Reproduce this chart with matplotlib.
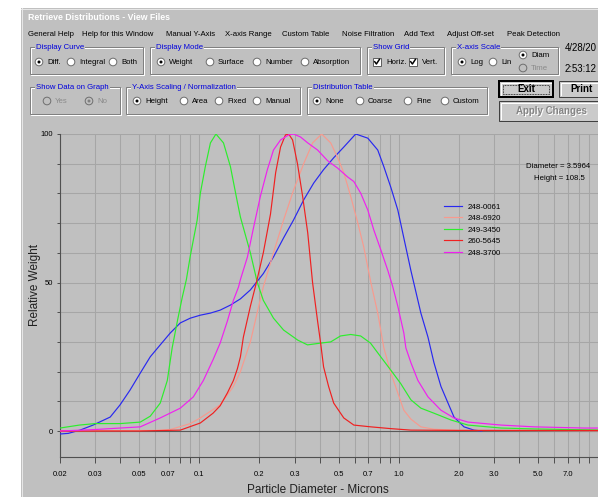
import matplotlib
matplotlib.use("Agg")
import matplotlib.pyplot as plt
import numpy as np
from matplotlib.patches import Rectangle, Circle
from matplotlib.colors import LinearSegmentedColormap
from matplotlib.ticker import FixedLocator, FixedFormatter

plt.rcParams['font.family'] = ['Liberation Sans', 'DejaVu Sans']

# curves: diameter (microns) vs relative weight
blue_x = [0.02, 0.022, 0.0252, 0.0293, 0.0357, 0.04, 0.0449, 0.0505, 0.0567, 0.0636, 0.0714,
          0.0802, 0.09, 0.101, 0.1135, 0.127, 0.143, 0.1605, 0.18, 0.198, 0.209, 0.235, 0.264,
          0.296, 0.333, 0.374, 0.419, 0.471, 0.529, 0.607, 0.698, 0.783, 0.84, 0.911, 0.987,
          1.058, 1.148, 1.288, 1.398, 1.498, 1.624, 1.762, 1.888, 2.119, 2.378, 2.6]
blue_y = [-1, -0.8, 0.3, 2, 4.7, 8.8, 13.8, 19.5, 25, 29, 33,
          36.4, 38, 39, 39.7, 40.7, 42.4, 44.5, 47.5, 51, 53, 58.6, 65,
          71, 77.8, 83.5, 88, 92, 95.6, 100, 98.6, 94.6, 89, 82, 74.4,
          65, 54, 39.7, 31.6, 23, 15, 9.4, 4.7, 1.4, 0.3, 0]

salmon_x = [0.02, 0.06, 0.0714, 0.09, 0.101, 0.127, 0.148, 0.1605, 0.18, 0.195, 0.209, 0.235,
            0.264, 0.296, 0.333, 0.369, 0.41, 0.455, 0.493, 0.529, 0.573, 0.622, 0.666, 0.723,
            0.783, 0.84, 0.911, 0.987, 1.058, 1.148, 1.288, 1.498, 2.0, 10.5]
salmon_y = [0, 0.2, 0.5, 2.5, 4.4, 8.8, 15, 20, 30, 40, 48.5, 60,
            71, 81, 90, 97, 100, 97, 92, 87, 79, 70, 62, 50,
            39.7, 28, 19.5, 12.8, 7, 4, 1.4, 0.6, 0.2, 0]

green_x = [0.02, 0.025, 0.03, 0.04, 0.0505, 0.0567, 0.0636, 0.069, 0.073, 0.0775, 0.082, 0.086,
           0.09, 0.0974, 0.101, 0.107, 0.1135, 0.121, 0.132, 0.143, 0.155, 0.1605, 0.18, 0.195,
           0.209, 0.235, 0.264, 0.311, 0.348, 0.405, 0.455, 0.509, 0.573, 0.643, 0.72, 0.81,
           0.91, 1.02, 1.148, 1.288, 1.498, 1.824, 2.218, 3.25, 4.76, 10.5]
green_y = [1, 2, 2.5, 2.5, 3, 5, 9.4, 17, 28, 37, 45, 51,
           59, 71, 80, 89, 97, 100, 97, 89, 77, 72, 60, 50,
           44, 38, 34, 30.6, 29, 29.6, 30, 32, 32.5, 32, 29.6, 25,
           20.5, 16, 10.5, 7.7, 6, 3.7, 2, 1, 0.7, 0.3]

red_x = [0.02, 0.05, 0.0802, 0.101, 0.117, 0.127, 0.138, 0.148, 0.155, 0.1605, 0.166, 0.18,
         0.193, 0.209, 0.227, 0.241, 0.255, 0.27, 0.28, 0.293, 0.31, 0.329, 0.349, 0.369,
         0.391, 0.405, 0.419, 0.444, 0.471, 0.529, 0.594, 0.723, 0.911, 1.148, 2.0, 10.5]
red_y = [0, 0, 0.3, 2.7, 6, 8.5, 12.8, 17, 21, 25, 31.6, 42,
         50, 60, 73, 87, 95.6, 99.7, 100, 98, 90, 79, 66.7, 50,
         37, 29.6, 21.6, 15, 9.4, 4.4, 2, 1.4, 0.8, 0.3, 0.2, 0.2]

magenta_x = [0.02, 0.03, 0.04, 0.0505, 0.0636, 0.0802, 0.0932, 0.1046, 0.117, 0.127, 0.138,
             0.148, 0.157, 0.1605, 0.174, 0.187, 0.202, 0.219, 0.235, 0.255, 0.28, 0.296,
             0.321, 0.349, 0.391, 0.439, 0.493, 0.554, 0.594, 0.644, 0.698, 0.748, 0.811,
             0.88, 0.932, 0.987, 1.058, 1.083, 1.148, 1.245, 1.398, 1.624, 1.888, 2.218,
             3.25, 4.76, 8.5, 10.5]
magenta_y = [0, 0.5, 1, 1.4, 4.4, 7.7, 11.5, 17, 24, 29.6, 37,
             44, 48.5, 51, 58.6, 68.7, 79, 88, 94.6, 98, 99.7, 100,
             99, 97, 94.6, 91, 88.5, 85.5, 84, 80, 74.4, 67.7, 61,
             54, 48.5, 42, 33, 28, 23, 17, 11.5, 7, 4.4, 3,
             2, 1.4, 1, 1]

series = [(blue_x, blue_y), (salmon_x, salmon_y), (green_x, green_y),
          (red_x, red_y), (magenta_x, magenta_y)]
names = ['248-0061', '248-6920', '249-3450', '260-5645', '248-3700']
colors = ['#2828F0', '#F89A8E', '#2CEE2C', '#F02020', '#F020F0']

xticks = [0.02, 0.03, 0.04, 0.05, 0.06, 0.07, 0.08, 0.09, 0.1, 0.2, 0.3, 0.4, 0.5, 0.6,
          0.7, 0.8, 0.9, 1, 2, 3, 4, 5, 6, 7, 8, 9, 10]
xtick_labels = ['0.02', '0.03', '', '0.05', '', '0.07', '', '', '0.1', '0.2', '0.3', '',
                '0.5', '', '0.7', '', '', '1.0', '2.0', '3.0', '', '5.0', '', '7.0', '', '', '']
yticks = [0, 10, 20, 30, 40, 50, 60, 70, 80, 90, 100]
ytick_labels = ['0', '', '', '', '', '50', '', '', '', '', '100']

menu = ['General Help', 'Help for this Window', 'Manual Y-Axis', 'X-axis Range', 'Custom Table',
        'Noise Filtration', 'Add Text', 'Adjust Off-set', 'Peak Detection']

W, H = 598, 497
FACE = '#C0C0C0'
fig = plt.figure(figsize=(W / 100, H / 100), dpi=100, facecolor='white')

# window chrome, drawn in pixel coordinates
ui = fig.add_axes([0, 0, 1, 1])
ui.axis('off')

def lw(p):
    return p * 0.72

ui.add_patch(Rectangle((21, 8), W - 21, H - 8, fc=FACE, ec='none'))
ui.plot([21.5, 21.5], [8, H], color='#E6E6E6', lw=lw(1))
ui.plot([21, W], [8.5, 8.5], color='#E6E6E6', lw=lw(1))
tb = LinearSegmentedColormap.from_list('tb', ['#0A246A', '#A6CAF0'])
ui.imshow(np.linspace(0, 1, 256)[None, :], extent=(23, W, 25, 11), cmap=tb,
          aspect='auto', interpolation='bilinear')
ui.text(28, 18, 'Retrieve Distributions - View Files', color='white', fontsize=6.3,
        fontweight='bold', va='center')

for label, x in zip(menu, [28, 82, 166, 225, 282, 342, 404, 447, 507]):
    ui.text(x, 34, label, fontsize=5.6, va='center')


def group(x0, y0, x1, y1, label):
    ui.add_patch(Rectangle((x0 + 1, y0 + 1), x1 - x0, y1 - y0, fill=False, ec='white', lw=lw(1)))
    ui.add_patch(Rectangle((x0, y0), x1 - x0, y1 - y0, fill=False, ec='#808080', lw=lw(1)))
    ui.text(x0 + 6, y0 + 0.5, label, fontsize=5.6, color='#0000DD', va='center',
            bbox=dict(fc=FACE, ec='none', pad=0.8))


def radio(xt, y, label, on=False, grey=False):
    ui.add_patch(Circle((xt - 8, y), 3.8, fc=FACE if grey else 'white', ec='#707070', lw=lw(1)))
    if on:
        ui.add_patch(Circle((xt - 8, y), 1.5, fc='#808080' if grey else 'black', ec='none'))
    ui.text(xt, y + 0.3, label, fontsize=5.6, va='center', color='#8A8A8A' if grey else 'black')


def check(xt, y, label):
    ui.add_patch(Rectangle((xt - 13, y - 4), 8, 8, fc='white', ec='#606060', lw=lw(1)))
    ui.plot([xt - 11.3, xt - 9.6, xt - 6.6], [y - 0.3, y + 2, y - 2.6], color='black', lw=lw(1.5))
    ui.text(xt, y + 0.3, label, fontsize=5.6, va='center')


def button(x0, y0, x1, y1, label, default=False, grey=False):
    ui.add_patch(Rectangle((x0, y0), x1 - x0, y1 - y0, fc='#CACACA',
                           ec='black' if default else '#404040', lw=lw(2 if default else 1)))
    ui.plot([x0 + 1.5, x0 + 1.5, x1 - 2], [y1 - 2, y0 + 1.5, y0 + 1.5], color='white', lw=lw(1))
    if default:
        ui.add_patch(Rectangle((x0 + 4, y0 + 3.5), x1 - x0 - 8, y1 - y0 - 7, fill=False,
                               ec='black', lw=lw(0.8), ls=(0, (1, 1))))
    cx, cy = (x0 + x1) / 2, (y0 + y1) / 2 + 0.5
    if grey:
        ui.text(cx + 0.7, cy + 0.7, label, fontsize=7, fontweight='bold', color='white',
                ha='center', va='center')
    ui.text(cx, cy, label, fontsize=7, fontweight='bold', color='#858585' if grey else 'black',
            ha='center', va='center')


group(30, 47, 143, 74, 'Display Curve')
radio(47, 62, 'Diff.', on=True)
radio(79, 62, 'Integral')
radio(121, 62, 'Both')
group(150, 47, 360, 74, 'Display Mode')
radio(169, 62, 'Weight', on=True)
radio(218, 62, 'Surface')
radio(265, 62, 'Number')
radio(313, 62, 'Absorption')
group(367, 47, 444, 74, 'Show Grid')
check(386, 62, 'Horiz.')
check(422, 62, 'Vert.')
group(451, 47, 558, 74, 'X-axis Scale')
radio(470, 62, 'Log', on=True)
radio(501, 62, 'Lin')
radio(531, 55, 'Diam', on=True)
radio(531, 68, 'Time', grey=True)
ui.text(565, 48, '4/28/20', fontsize=6.9, va='center')
ui.text(565, 69, '2:53:12', fontsize=6.9, va='center')

group(30, 87, 120, 114, 'Show Data on Graph')
radio(55, 101, 'Yes', grey=True)
radio(97, 101, 'No', on=True, grey=True)
group(126, 87, 300, 114, 'Y-Axis Scaling / Normalization')
radio(145, 101, 'Height', on=True)
radio(192, 101, 'Area')
radio(227, 101, 'Fixed')
radio(265, 101, 'Manual')
group(307, 87, 487, 114, 'Distribution Table')
radio(325, 101, 'None', on=True)
radio(368, 101, 'Coarse')
radio(416, 101, 'Fine')
radio(453, 101, 'Custom')
button(499, 81, 553, 97, 'Exit', default=True)
button(559, 81, 604, 97, 'Print')
button(499, 101, 604, 121, 'Apply Changes', grey=True)

ui.set_xlim(0, W)
ui.set_ylim(H, 0)

# the graph itself
decade = 199.5
right_px = 60 + decade * np.log10(10.5 / 0.02)
ax = fig.add_axes([60 / W, (H - 457) / H, (right_px - 60) / W, 323 / H])
ax.set_facecolor(FACE)
ax.set_xscale('log')

for (xs, ys), c, n in zip(series, colors, names):
    ax.plot(xs, ys, color=c, lw=0.85, label=n, zorder=3)
ax.axhline(0, color='#5A5A5A', lw=0.8, zorder=2)

ax.set_xlim(0.02, 10.5)
ax.set_ylim(-8.75, 100)
ax.xaxis.set_major_locator(FixedLocator(xticks))
ax.xaxis.set_major_formatter(FixedFormatter(xtick_labels))
ax.xaxis.set_minor_locator(FixedLocator([]))
ax.yaxis.set_major_locator(FixedLocator(yticks))
ax.yaxis.set_major_formatter(FixedFormatter(ytick_labels))
ax.grid(True, color='#A6A6A6', lw=0.75, zorder=1)
ax.set_axisbelow(True)

for s in ['top', 'right']:
    ax.spines[s].set_visible(False)
for s in ['left', 'bottom']:
    ax.spines[s].set_color('#505050')
    ax.spines[s].set_linewidth(0.8)
ax.tick_params(axis='x', direction='out', length=4.3, width=0.72, color='#505050',
               labelsize=5.5, pad=6)
ax.tick_params(axis='y', direction='out', length=2.2, width=0.72, color='#505050',
               labelsize=5.5, pad=3)

ax.legend(loc='upper left', bbox_to_anchor=(444 / W, 1 - 203 / H), bbox_transform=fig.transFigure,
          frameon=False, fontsize=5.7, handlelength=2.3, handletextpad=0.75, labelspacing=0.5,
          borderpad=0, borderaxespad=0)

fig.text(558 / W, 1 - 166 / H, 'Diameter = 3.5964', fontsize=5.6, ha='center', va='center')
fig.text(559.5 / W, 1 - 179 / H, 'Height = 108.5', fontsize=5.6, ha='center', va='center')
fig.text(35 / W, 1 - 285 / H, 'Relative Weight', fontsize=8.5, rotation=90, ha='center',
         va='center', color='#202020')
fig.text(318 / W, 1 - 490 / H, 'Particle Diameter - Microns', fontsize=8.5, ha='center',
         va='center', color='#202020')

fig.savefig('out.png', dpi=100, facecolor='white')
